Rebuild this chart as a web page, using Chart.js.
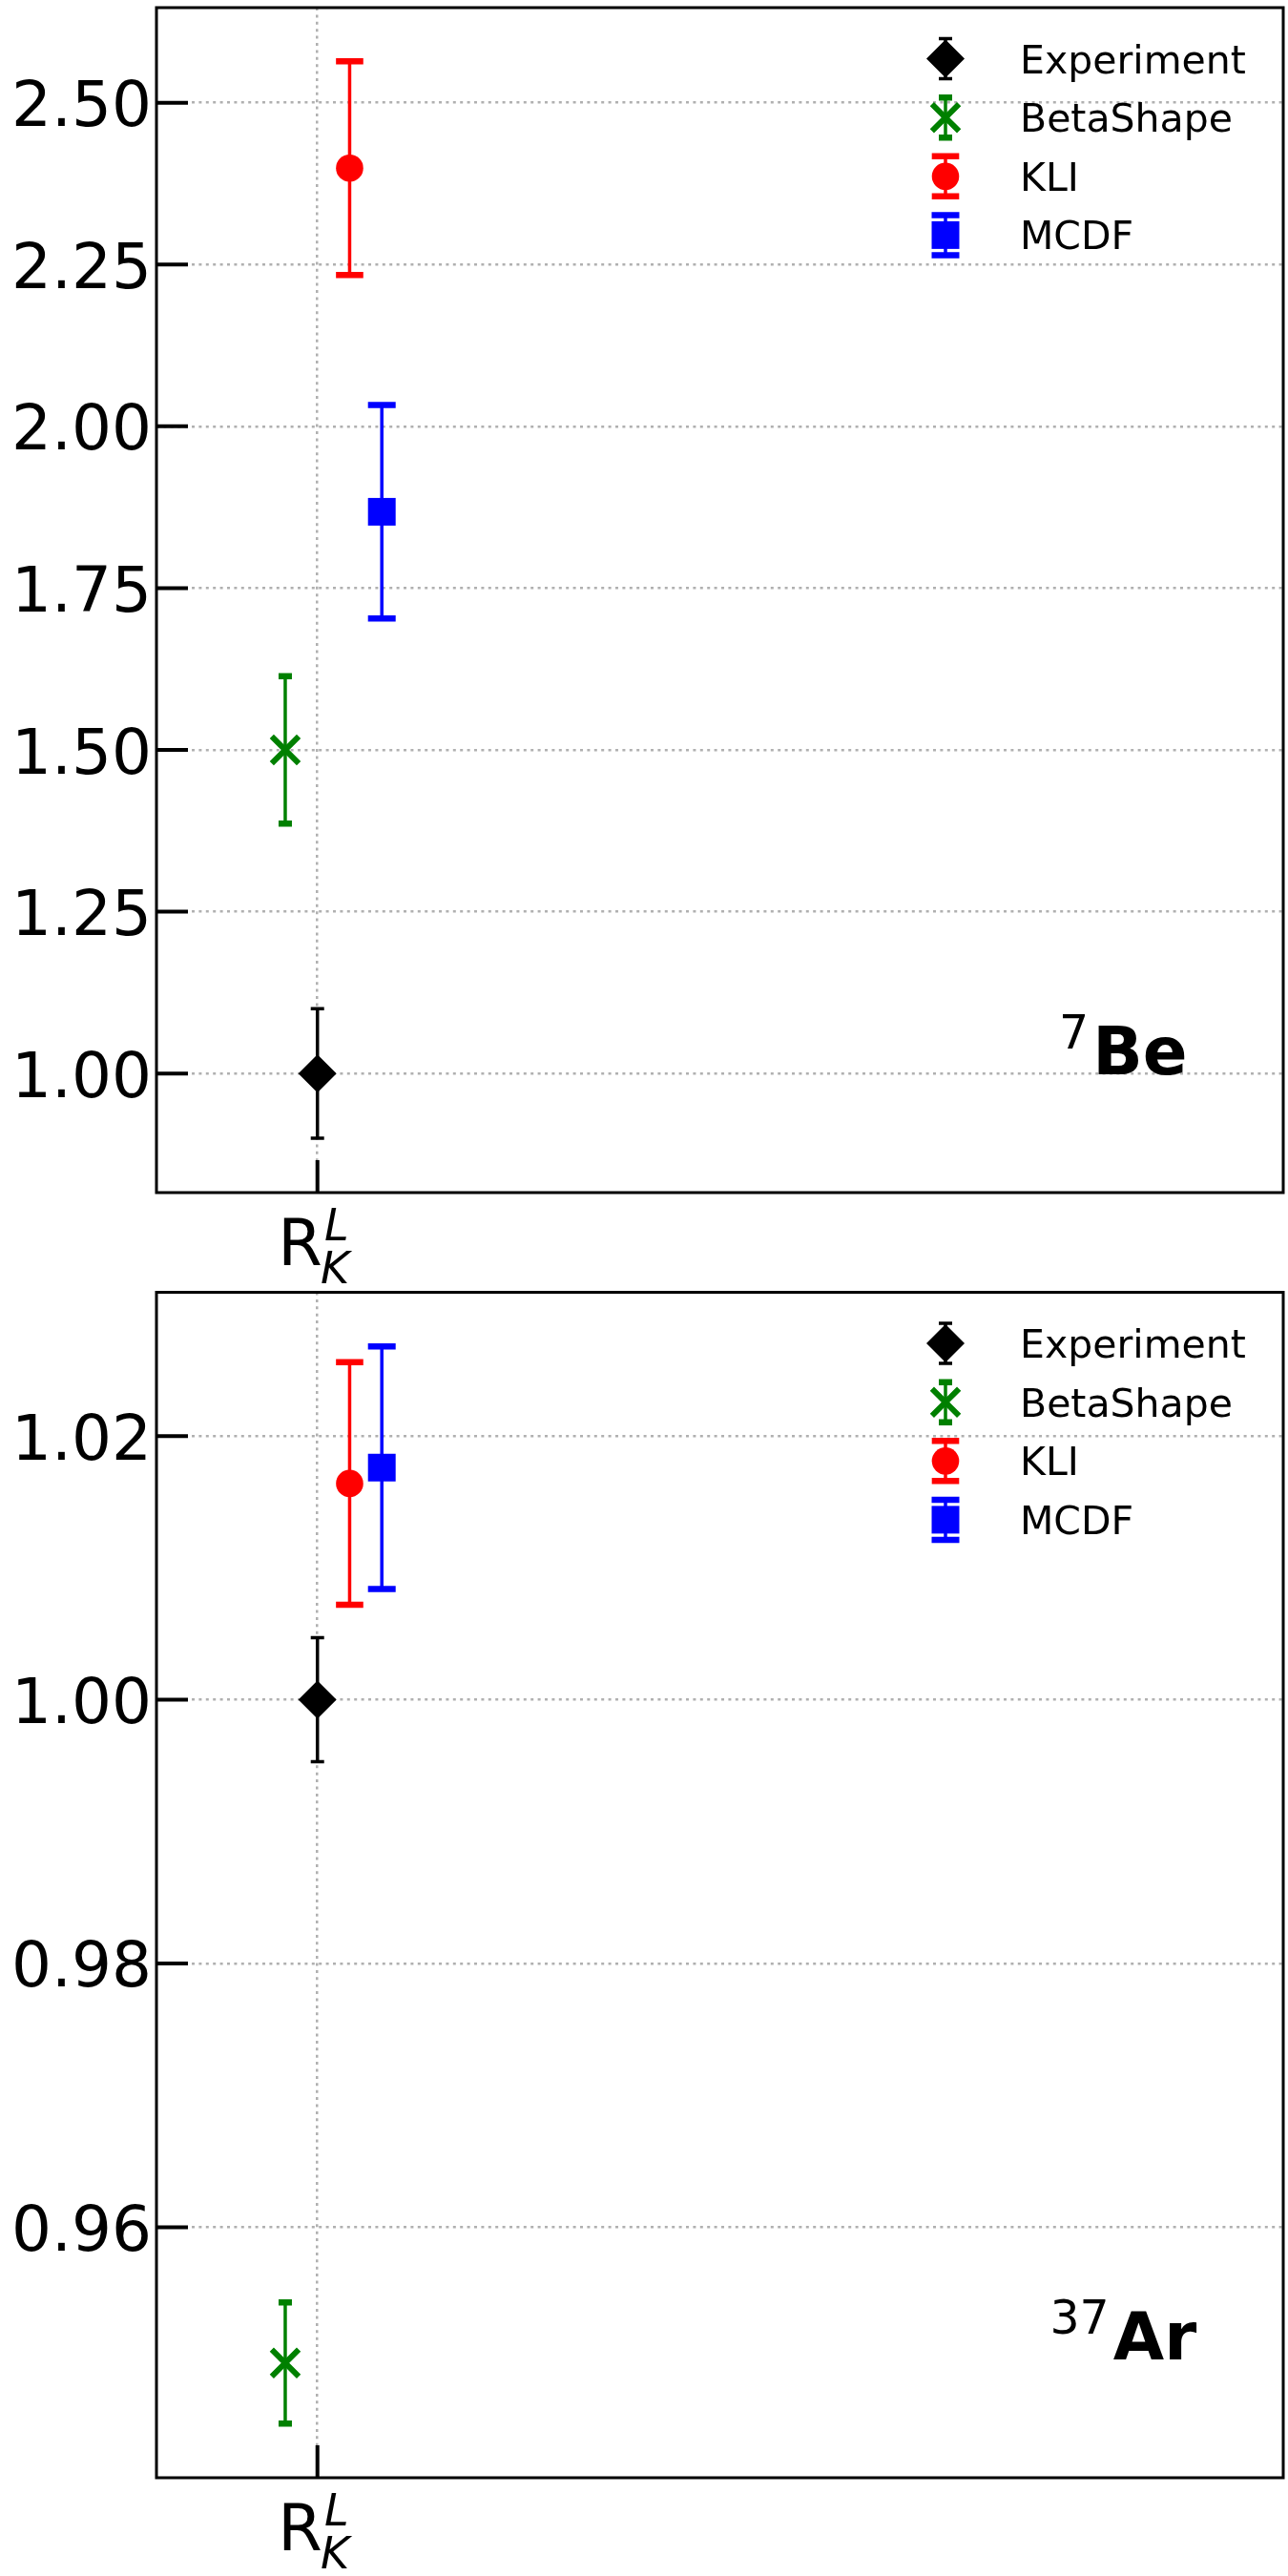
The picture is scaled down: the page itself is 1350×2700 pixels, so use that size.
<!DOCTYPE html>
<html>
<head>
<meta charset="utf-8">
<script src="https://cdn.jsdelivr.net/npm/chart.js@4.4.0/dist/chart.umd.min.js"></script>
<style>
  html, body { margin: 0; padding: 0; background: #fff; }
  .panel { position: relative; width: 1350px; height: 1350px; }
</style>
</head>
<body>
<div class="panel"><canvas id="chart-be" width="1350" height="1350"></canvas></div>
<div class="panel"><canvas id="chart-ar" width="1350" height="1350"></canvas></div>
<script>
// ── DATA ──────────────────────────────────────────────────────
const seriesNames = ['Experiment', 'BetaShape', 'KLI', 'MCDF'];
const xPositions  = [0, -0.1, 0.1, 0.2];
const xTickValues = [0];

const beValues = [1.000, 1.500, 2.399, 1.868];
const beErrors = [0.100, 0.114, 0.165, 0.165];
const beTicks  = [1.00, 1.25, 1.50, 1.75, 2.00, 2.25, 2.50];

const arValues = [1.0000, 0.9497, 1.0164, 1.0176];
const arErrors = [0.0047, 0.0046, 0.0092, 0.0092];
const arTicks  = [0.96, 0.98, 1.00, 1.02];

// ── STYLES ────────────────────────────────────────────────────
const FONT = "'DejaVu Sans', 'Liberation Sans', sans-serif";
const STYLES = [
  { color: '#000000', pointStyle: 'rectRot',  radius: 20,   border: 0, capHalf: 7,    capW: 3.5 },
  { color: '#008000', pointStyle: 'crossRot', radius: 20,   border: 6, capHalf: 7,    capW: 6.5 },
  { color: '#ff0000', pointStyle: 'circle',   radius: 14.3, border: 0, capHalf: 14.3, capW: 6.5 },
  { color: '#0000ff', pointStyle: 'rect',     radius: 20.5, border: 0, capHalf: 14.5, capW: 6.5 },
];
const BAR_W = 3.5;

function drawErrorBar(ctx, px, yTop, yBot, st) {
  ctx.save();
  ctx.strokeStyle = st.color;
  ctx.lineWidth = BAR_W;
  ctx.beginPath();
  ctx.moveTo(px, yTop); ctx.lineTo(px, yBot);
  ctx.stroke();
  ctx.lineWidth = st.capW;
  ctx.beginPath();
  ctx.moveTo(px - st.capHalf, yTop); ctx.lineTo(px + st.capHalf, yTop);
  ctx.moveTo(px - st.capHalf, yBot); ctx.lineTo(px + st.capHalf, yBot);
  ctx.stroke();
  ctx.restore();
}

function drawMarker(ctx, px, py, st) {
  ctx.save();
  ctx.fillStyle = st.color;
  ctx.strokeStyle = st.color;
  ctx.lineWidth = st.border;
  Chart.helpers.drawPoint(ctx, {
    pointStyle: st.pointStyle, radius: st.radius, borderWidth: st.border, rotation: 0,
  }, px, py);
  ctx.restore();
}

function noPadding(s) {
  s.paddingTop = 0; s.paddingBottom = 0; s.paddingLeft = 0; s.paddingRight = 0;
}

// ── BUILD ONE PANEL ───────────────────────────────────────────
function makePanel(canvasId, values, errors, yTicks, yMin, yMax, supText, mainText, padTop, xAxisH) {
  const decorations = {
    id: 'decorations_' + canvasId,
    beforeDatasetsDraw(chart) {
      const { ctx, scales: { x, y } } = chart;
      values.forEach((v, i) => {
        const px = x.getPixelForValue(xPositions[i]);
        drawErrorBar(ctx, px, y.getPixelForValue(v + errors[i]), y.getPixelForValue(v - errors[i]), STYLES[i]);
      });
    },
    afterDraw(chart) {
      const { ctx, chartArea: a, scales: { x, y } } = chart;
      ctx.save();

      // inward ticks
      ctx.strokeStyle = '#000';
      ctx.lineWidth = 4;
      ctx.beginPath();
      yTicks.forEach(t => {
        const py = y.getPixelForValue(t);
        ctx.moveTo(a.left, py); ctx.lineTo(a.left + 33, py);
      });
      xTickValues.forEach(t => {
        const px = x.getPixelForValue(t);
        ctx.moveTo(px, a.bottom); ctx.lineTo(px, a.bottom - 34);
      });
      ctx.stroke();

      // frame
      ctx.lineWidth = 3;
      ctx.strokeRect(a.left, a.top, a.right - a.left, a.bottom - a.top);

      // y tick labels
      ctx.fillStyle = '#000';
      ctx.font = '66px ' + FONT;
      ctx.textAlign = 'right';
      ctx.textBaseline = 'alphabetic';
      yTicks.forEach(t => {
        ctx.fillText(t.toFixed(2), a.left - 5, y.getPixelForValue(t) + 24.5);
      });

      // x tick label  R_K^L
      ctx.textAlign = 'left';
      const px = x.getPixelForValue(xTickValues[0]);
      ctx.font = '67px ' + FONT;
      const wR = ctx.measureText('R').width;
      ctx.font = 'italic 46px ' + FONT;
      const wS = Math.max(ctx.measureText('L').width, ctx.measureText('K').width);
      const sx = px - (wR + wS) / 2 - 3;
      const base = a.bottom + 76;
      ctx.font = '67px ' + FONT;
      ctx.fillText('R', sx, base);
      ctx.font = 'italic 46px ' + FONT;
      ctx.fillText('L', sx + wR + 2, base - 26);
      ctx.fillText('K', sx + wR - 2, base + 19);

      // legend
      const lx = a.right - 354;
      const tx = a.right - 276;
      ctx.font = '41px ' + FONT;
      seriesNames.forEach((name, i) => {
        const ly = a.top + 53.6 + i * 61.6;
        drawErrorBar(ctx, lx, ly - 21, ly + 21, STYLES[i]);
        drawMarker(ctx, lx, ly, STYLES[i]);
        ctx.fillStyle = '#000';
        ctx.fillText(name, tx, ly + 15);
      });

      // isotope annotation
      ctx.font = '49px ' + FONT;
      const wSup = ctx.measureText(supText).width;
      ctx.font = 'bold 69px ' + FONT;
      const wMain = ctx.measureText(mainText).width;
      const cx = a.left + 0.858 * (a.right - a.left);
      const ax0 = cx - (wSup + 4 + wMain) / 2;
      const ab = a.bottom - 124;
      ctx.font = '49px ' + FONT;
      ctx.fillText(supText, ax0, ab - 27.5);
      ctx.font = 'bold 69px ' + FONT;
      ctx.fillText(mainText, ax0 + wSup + 4, ab);

      ctx.restore();
    },
  };

  return new Chart(document.getElementById(canvasId), {
    type: 'scatter',
    data: {
      datasets: seriesNames.map((name, i) => ({
        label: name,
        data: [{ x: xPositions[i], y: values[i] }],
        pointStyle: STYLES[i].pointStyle,
        pointRadius: STYLES[i].radius,
        pointBorderWidth: STYLES[i].border,
        pointBackgroundColor: STYLES[i].color,
        pointBorderColor: STYLES[i].color,
      })),
    },
    options: {
      responsive: false,
      animation: false,
      events: [],
      devicePixelRatio: 1,
      layout: { autoPadding: false, padding: { top: padTop, right: 5, left: 0, bottom: 0 } },
      plugins: { legend: { display: false }, tooltip: { enabled: false } },
      scales: {
        x: {
          type: 'linear', min: -0.5, max: 3,
          afterBuildTicks: s => { s.ticks = xTickValues.map(v => ({ value: v })); },
          afterFit: s => { s.height = xAxisH; noPadding(s); },
          ticks: { display: false },
          grid: { color: '#b0b0b0', lineWidth: 2.5, drawTicks: false },
          border: { display: false, dash: [3, 4.4] },
        },
        y: {
          type: 'linear', min: yMin, max: yMax,
          afterBuildTicks: s => { s.ticks = yTicks.map(v => ({ value: v })); },
          afterFit: s => { s.width = 164; noPadding(s); },
          ticks: { display: false },
          grid: { color: '#b0b0b0', lineWidth: 2.5, drawTicks: false },
          border: { display: false, dash: [3, 4.4] },
        },
      },
    },
    plugins: [decorations],
  });
}

makePanel('chart-be', beValues, beErrors, beTicks, 0.816, 2.647, '7', 'Be', 8, 100);
makePanel('chart-ar', arValues, arErrors, arTicks, 0.9410, 1.0309, '37', 'Ar', 4.5, 103);
</script>
</body>
</html>
